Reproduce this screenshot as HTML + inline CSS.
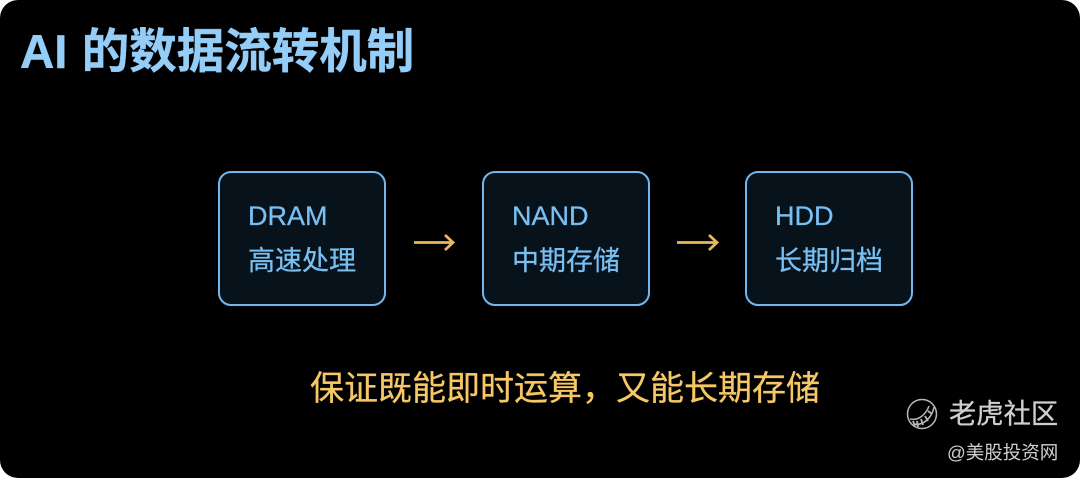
<!DOCTYPE html>
<html lang="zh"><head><meta charset="utf-8">
<style>
html,body{margin:0;padding:0;background:#fff;}
#p{position:relative;width:1080px;height:478px;background:#000;border-radius:18px;overflow:hidden;font-family:"Liberation Sans","Noto Sans CJK SC",sans-serif;}
.t{position:absolute;white-space:nowrap;line-height:1;}
.b{position:absolute;top:171px;width:164px;height:131px;border:2.500px solid #72b8ee;border-radius:13px;background:#07121b;}
.c{color:#78bff2;font-size:27px;-webkit-text-stroke:.3px #78bff2;}
svg{position:absolute;left:0;top:0;}
</style></head><body>
<div id="p">
<div class="t" style="left:20px;top:29px;font-size:47.500px;font-weight:700;color:#93cdf8;word-spacing:1px;-webkit-text-stroke:.4px #93cdf8;">AI 的数据流转机制</div>
<div class="b" style="left:218px"></div>
<div class="b" style="left:482px"></div>
<div class="b" style="left:745px"></div>
<div class="t c" style="left:248px;top:203px;">DRAM</div>
<div class="t c" style="left:248px;top:248px;">高速处理</div>
<div class="t c" style="left:512px;top:203px;">NAND</div>
<div class="t c" style="left:512px;top:248px;">中期存储</div>
<div class="t c" style="left:775px;top:203px;">HDD</div>
<div class="t c" style="left:775px;top:248px;">长期归档</div>
<svg width="1080" height="478" fill="none">
<g stroke="#e6b95c" stroke-width="2.800">
<path d="M414 242.500H453M445 235L453 242.500L445 250"/>
<path d="M677 242.500H717M709 235L717 242.500L709 250"/>
</g>
<g stroke="#b8b8b8" stroke-width="1.500">
<circle cx="922" cy="414" r="14.500"/>
<path d="M910 419C919 421 926 414 929 406M914 424C923 426 932 418 934 407"/>
<path d="M913 421L915 426M917 421L918 427M921 419L923 425M925 416L928 421M928 411L932 414" stroke-width="1.800"/>
</g>
</svg>
<div class="t" style="left:310px;top:372px;font-size:34px;color:#f5c766;-webkit-text-stroke:.3px #f5c766;">保证既能即时运算，又能长期存储</div>
<div class="t" style="left:949px;top:400px;font-size:27.300px;color:#cfcfcf;-webkit-text-stroke:.3px #cfcfcf;">老虎社区</div>
<div class="t" style="left:947px;top:444px;font-size:18.500px;color:#cfcfcf;">@美股投资网</div>
</div>
</body></html>
